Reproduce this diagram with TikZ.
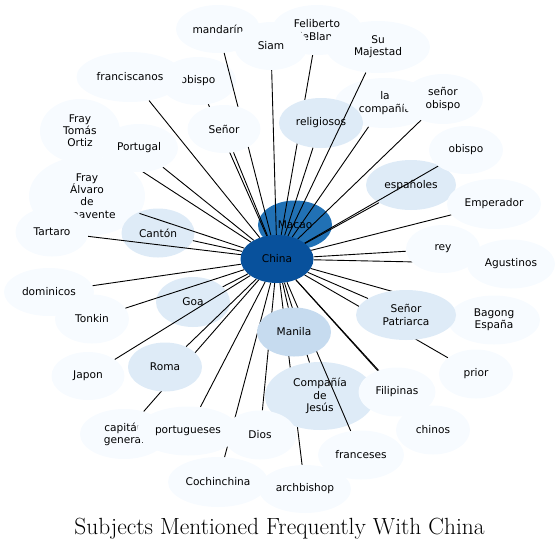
\documentclass[tikz,border=0pt]{standalone}
\usepackage{fontspec}
\newfontfamily\nodefont{DejaVu Sans}
\usetikzlibrary{shapes.geometric}
\definecolor{cChina}{HTML}{08519C}
\definecolor{cMacao}{HTML}{2171B5}
\definecolor{cManila}{HTML}{C6DBEF}
\definecolor{cMid}{HTML}{DEEBF7}
\definecolor{cLight}{HTML}{F7FBFF}
\pgfdeclarelayer{nzero}
\pgfdeclarelayer{eone}
\pgfdeclarelayer{none}
\pgfdeclarelayer{etwo}
\pgfsetlayers{nzero,eone,none,etwo,main}
\tikzset{
  nd/.style={ellipse, inner sep=0pt, minimum width=74pt, minimum height=49pt, align=center,
    font=\nodefont\fontsize{10.6}{12.2}\selectfont, text=black, draw=none},
  lt/.style={nd, fill=cLight},
  md/.style={nd, fill=cMid},
  link/.style={line width=0.9pt, black}
}
\begin{document}
\begin{tikzpicture}[x=1pt,y=-1pt]
\useasboundingbox (0,0) rectangle (559,550);
\begin{pgfonlayer}{nzero}
\node[nd, fill=cMacao] (macao) at (295,225) {Macao};
\node[nd, fill=cChina, minimum width=73pt, minimum height=48pt] (china) at (277,259) {China};
\node[md, minimum width=90pt, minimum height=50pt] (espanoles) at (411,185) {españoles};
\node[lt, minimum width=80pt, minimum height=64pt] (tomas) at (80,131) {Fray\\Tomás\\Ortiz};
\node[lt, minimum width=116pt, minimum height=80pt] (alvaro) at (87,196) {Fray\\Álvaro\\de\\Benavente};
\node[lt, minimum width=73pt] (tartaro) at (52,232) {Tartaro};
\node[md, minimum width=73pt] (canton) at (158,233) {Cantón};
\node[md, minimum height=50pt] (goa) at (193,302) {Goa};
\node[lt, minimum width=90pt, minimum height=50pt] (feliberto) at (317,30) {Feliberto\\deBlanc};
\node[lt, minimum width=84pt, minimum height=48pt] (mandarin) at (218,29) {mandarín};
\node[lt, minimum width=100pt, minimum height=50pt] (lacompania) at (385,103) {la\\compañía};
\node[lt, minimum width=76pt, minimum height=48pt] (obispoA) at (198,81) {obispo};
\node[lt, minimum width=107pt, minimum height=50pt] (franciscanos) at (130,77) {franciscanos};
\node[lt, minimum width=90pt, minimum height=48pt] (dominicos) at (49,292) {dominicos};
\node[lt] (tonkin) at (92,319) {Tonkin};
\node[lt, minimum width=73pt, minimum height=48pt] (japon) at (88,376) {Japon};
\node[lt, minimum width=88pt, minimum height=50pt] (capitan) at (124,434) {capitán\\general};
\node[lt, minimum width=100pt, minimum height=50pt] (cochinchina) at (218,482) {Cochinchina};
\node[lt, minimum width=92pt, minimum height=48pt] (archbishop) at (305,489) {archbishop};
\end{pgfonlayer}
\begin{pgfonlayer}{none}
\node[md, minimum width=84pt, minimum height=50pt] (religiosos) at (321,123) {religiosos};
\node[md, minimum width=110pt, minimum height=68pt] (compania) at (320,396) {Compañía\\de\\Jesús};
\end{pgfonlayer}
\node[lt, minimum width=73pt, minimum height=48pt] (siam) at (271,46) {Siam};
\node[lt, minimum width=104pt, minimum height=52pt] (sumajestad) at (378,47) {Su\\Majestad};
\node[lt, minimum width=80pt, minimum height=50pt] (senorobispo) at (443,99) {señor\\obispo};
\node[lt, minimum height=48pt] (obispoB) at (466,150) {obispo};
\node[lt, minimum width=94pt, minimum height=50pt] (emperador) at (494,204) {Emperador};
\node[lt, minimum height=48pt] (rey) at (443,249) {rey};
\node[lt, minimum width=88pt] (agustinos) at (511,264) {Agustinos};
\node[lt, minimum width=92pt] (bagong) at (494,320) {Bagong\\España};
\node[md, minimum width=100pt, minimum height=50pt] (patriarca) at (406,315) {Señor\\Patriarca};
\node[lt] (prior) at (476,374) {prior};
\node[lt, minimum width=77pt] (filipinas) at (397,392) {Filipinas};
\node[lt] (chinos) at (433,430) {chinos};
\node[lt, minimum width=86pt] (franceses) at (361,455) {franceses};
\node[nd, fill=cManila] (manila) at (294,332) {Manila};
\node[lt, minimum width=73pt] (dios) at (260,435) {Dios};
\node[md] (roma) at (165,367) {Roma};
\node[lt, minimum width=102pt] (portugueses) at (188,431) {portugueses};
\node[lt, minimum width=73pt, minimum height=48pt] (senor) at (224,129) {Señor};
\node[lt, minimum width=78pt, minimum height=48pt] (portugal) at (139,148) {Portugal};
\begin{pgfonlayer}{eone}
\draw[link] (china) -- (feliberto);
\draw[link] (china) -- (archbishop);
\end{pgfonlayer}
\begin{pgfonlayer}{etwo}
\foreach \n in {mandarin,siam,sumajestad,lacompania,senorobispo,obispoB,espanoles,emperador,rey,agustinos,bagong,patriarca,prior,chinos,filipinas,franceses,compania,manila,dios,cochinchina,portugueses,roma,capitan,japon,goa,tonkin,dominicos,tartaro,canton,alvaro,tomas,portugal,franciscanos,obispoA,senor,religiosos}
  \draw[link] (china) -- (\n);
\end{pgfonlayer}
\node[font=\fontsize{23.4}{28}\selectfont, anchor=base, inner sep=0pt] (title) at (279.5,534) {Subjects Mentioned Frequently With China};
\end{tikzpicture}
\end{document}
